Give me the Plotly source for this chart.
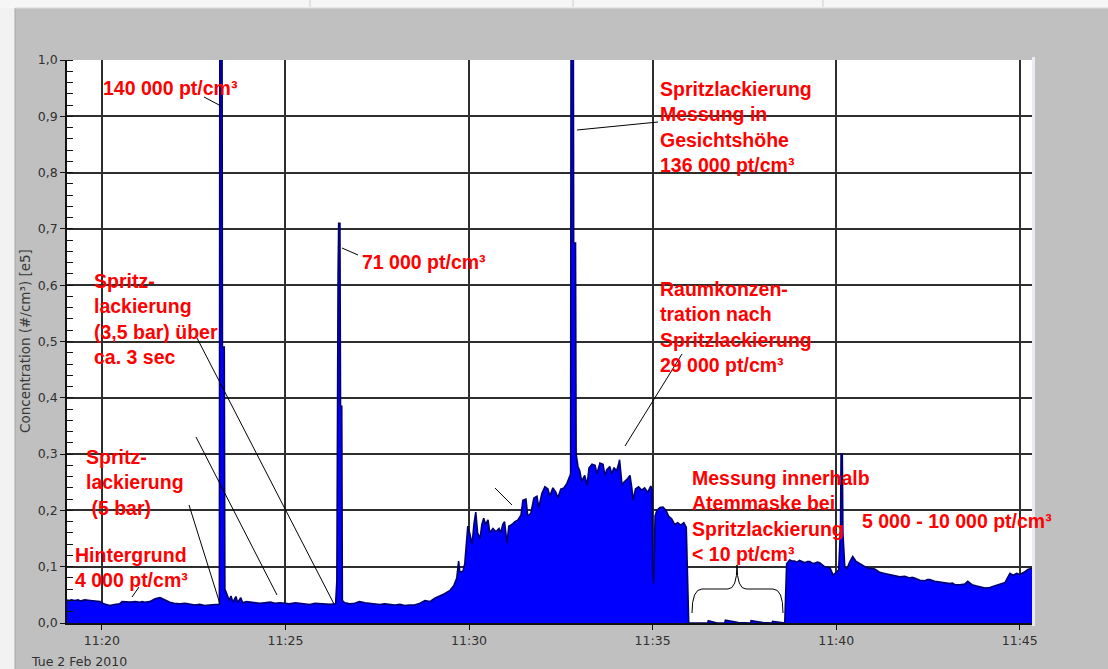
import plotly.graph_objects as go

DAY = "2010-02-02 "

# Particle concentration in units of 1e5 pt/cm³, read per measurement phase
bg_time = ["11:19:03", "11:19:07", "11:19:10", "11:19:16", "11:19:21", "11:19:25", "11:19:32", "11:19:37",
           "11:19:41", "11:19:49", "11:19:57", "11:20:03", "11:20:08", "11:20:13", "11:20:21", "11:20:29",
           "11:20:33", "11:20:40", "11:20:46", "11:20:55", "11:21:02", "11:21:06", "11:21:10", "11:21:18",
           "11:21:24", "11:21:27", "11:21:35", "11:21:43", "11:21:51", "11:21:58", "11:22:07", "11:22:16",
           "11:22:24", "11:22:32", "11:22:40", "11:22:48", "11:22:56", "11:23:05", "11:23:11"]
bg_conc = [0.041, 0.040, 0.041, 0.040, 0.041, 0.039, 0.041, 0.040,
           0.040, 0.039, 0.038, 0.034, 0.032, 0.031, 0.033, 0.034,
           0.038, 0.037, 0.037, 0.038, 0.037, 0.038, 0.037, 0.038,
           0.041, 0.043, 0.045, 0.041, 0.037, 0.035, 0.034, 0.035,
           0.034, 0.032, 0.033, 0.031, 0.032, 0.032, 0.033]

spike1_time = ["11:23:12", "11:23:13", "11:23:16", "11:23:17", "11:23:20", "11:23:21", "11:23:23", "11:23:28",
               "11:23:31", "11:23:34", "11:23:39", "11:23:42", "11:23:47", "11:23:50", "11:23:56", "11:24:02",
               "11:24:10", "11:24:18", "11:24:26", "11:24:35", "11:24:43", "11:24:51", "11:24:59", "11:25:07",
               "11:25:16", "11:25:24", "11:25:32", "11:25:40", "11:25:48", "11:25:56", "11:26:05", "11:26:13",
               "11:26:22", "11:26:24"]
spike1_conc = [0.034, 1.40, 1.40, 0.49, 0.49, 0.060, 0.055, 0.040,
               0.048, 0.037, 0.047, 0.036, 0.045, 0.036, 0.038, 0.037,
               0.036, 0.035, 0.036, 0.037, 0.035, 0.036, 0.035, 0.034,
               0.036, 0.035, 0.034, 0.033, 0.035, 0.034, 0.033, 0.033,
               0.034, 0.075]

spike2_time = ["11:26:26", "11:26:27", "11:26:29", "11:26:30", "11:26:32", "11:26:33", "11:26:37", "11:26:45",
               "11:26:53", "11:27:01", "11:27:10", "11:27:18", "11:27:26", "11:27:34", "11:27:42", "11:27:50",
               "11:27:59", "11:28:07", "11:28:15", "11:28:23", "11:28:31", "11:28:40", "11:28:48", "11:28:56",
               "11:29:04", "11:29:12", "11:29:20", "11:29:29", "11:29:35", "11:29:40"]
spike2_conc = [0.62, 0.71, 0.71, 0.385, 0.385, 0.040, 0.036, 0.034,
               0.035, 0.038, 0.036, 0.035, 0.035, 0.033, 0.034, 0.033,
               0.032, 0.033, 0.031, 0.032, 0.032, 0.035, 0.040, 0.038,
               0.044, 0.048, 0.052, 0.058, 0.066, 0.080]

rise_time = ["11:29:43", "11:29:45", "11:29:50", "11:29:53", "11:29:56", "11:29:58", "11:30:01", "11:30:05",
             "11:30:08", "11:30:11", "11:30:14", "11:30:18", "11:30:21", "11:30:24", "11:30:27", "11:30:31",
             "11:30:34", "11:30:39", "11:30:44", "11:30:49", "11:30:52", "11:30:55", "11:30:58", "11:31:02",
             "11:31:05", "11:31:10", "11:31:15", "11:31:20", "11:31:25", "11:31:28", "11:31:33", "11:31:36",
             "11:31:41", "11:31:46", "11:31:51", "11:31:54", "11:31:59", "11:32:04", "11:32:09", "11:32:12",
             "11:32:17", "11:32:22", "11:32:25", "11:32:30", "11:32:35", "11:32:40", "11:32:45", "11:32:46"]
rise_conc = [0.110, 0.090, 0.092, 0.105, 0.150, 0.172, 0.160, 0.140,
             0.175, 0.197, 0.160, 0.150, 0.175, 0.186, 0.175, 0.183,
             0.160, 0.168, 0.162, 0.168, 0.160, 0.175, 0.180, 0.142,
             0.172, 0.175, 0.180, 0.183, 0.192, 0.218, 0.220, 0.190,
             0.195, 0.222, 0.225, 0.205, 0.230, 0.242, 0.238, 0.225,
             0.240, 0.232, 0.222, 0.238, 0.240, 0.248, 0.262, 0.265]

spike3_time = ["11:32:47", "11:32:50", "11:32:51", "11:32:54", "11:32:55", "11:32:58", "11:33:01", "11:33:04",
               "11:33:09", "11:33:13", "11:33:16", "11:33:21", "11:33:26", "11:33:29", "11:33:34", "11:33:39",
               "11:33:42", "11:33:45", "11:33:50", "11:33:53", "11:33:57", "11:34:01", "11:34:05", "11:34:06",
               "11:34:10", "11:34:13", "11:34:18", "11:34:23", "11:34:26", "11:34:28", "11:34:32", "11:34:37",
               "11:34:42", "11:34:47", "11:34:52", "11:34:57", "11:34:59"]
spike3_conc = [1.36, 1.36, 0.675, 0.675, 0.300, 0.278, 0.270, 0.252,
               0.262, 0.245, 0.275, 0.282, 0.280, 0.265, 0.284, 0.282,
               0.262, 0.272, 0.278, 0.265, 0.276, 0.270, 0.284, 0.290,
               0.245, 0.250, 0.255, 0.262, 0.240, 0.218, 0.238, 0.242,
               0.236, 0.240, 0.232, 0.243, 0.238]

room_time = ["11:35:00", "11:35:02", "11:35:04", "11:35:07", "11:35:12", "11:35:17", "11:35:22", "11:35:26",
             "11:35:31", "11:35:36", "11:35:41", "11:35:46", "11:35:51", "11:35:55", "11:35:58", "11:35:59"]
room_conc = [0.090, 0.070, 0.190, 0.200, 0.205, 0.206, 0.200, 0.190,
             0.185, 0.175, 0.178, 0.174, 0.178, 0.170, 0.020, 0.0]

mask_time = ["11:36:10", "11:36:30", "11:36:31", "11:36:45", "11:36:58", "11:36:59", "11:37:20", "11:37:40",
             "11:37:41", "11:38:00", "11:38:15", "11:38:16", "11:38:36"]
mask_conc = [0.0, 0.0, 0.004, 0.0, 0.0, 0.005, 0.001, 0.0,
             0.004, 0.001, 0.0, 0.003, 0.0]

after_time = ["11:38:38", "11:38:39", "11:38:44", "11:38:48", "11:38:52", "11:38:56", "11:39:00", "11:39:05",
              "11:39:09", "11:39:13", "11:39:17", "11:39:21", "11:39:25", "11:39:29", "11:39:33", "11:39:41",
              "11:39:50", "11:39:55", "11:40:00", "11:40:04", "11:40:07", "11:40:08", "11:40:10", "11:40:11",
              "11:40:14", "11:40:18", "11:40:22", "11:40:27", "11:40:32", "11:40:39", "11:40:47", "11:40:55",
              "11:41:03", "11:41:07", "11:41:11", "11:41:19", "11:41:24", "11:41:28", "11:41:36", "11:41:44",
              "11:41:52", "11:42:00", "11:42:04", "11:42:08", "11:42:17", "11:42:25", "11:42:29", "11:42:33",
              "11:42:41", "11:42:49", "11:42:58", "11:43:06", "11:43:10", "11:43:14", "11:43:22", "11:43:30",
              "11:43:35", "11:43:42", "11:43:48", "11:43:55", "11:44:03", "11:44:11", "11:44:19", "11:44:27",
              "11:44:36", "11:44:40", "11:44:44", "11:44:49", "11:44:55", "11:45:00", "11:45:07", "11:45:13",
              "11:45:20"]
after_conc = [0.060, 0.105, 0.112, 0.110, 0.110, 0.108, 0.111, 0.109,
              0.107, 0.109, 0.109, 0.106, 0.106, 0.108, 0.107, 0.100,
              0.098, 0.085, 0.090, 0.094, 0.165, 0.300, 0.300, 0.160,
              0.100, 0.097, 0.108, 0.118, 0.110, 0.106, 0.100, 0.097,
              0.096, 0.093, 0.090, 0.088, 0.087, 0.085, 0.084, 0.082,
              0.083, 0.080, 0.081, 0.080, 0.076, 0.075, 0.077, 0.077,
              0.074, 0.073, 0.072, 0.070, 0.071, 0.068, 0.068, 0.069,
              0.074, 0.068, 0.066, 0.064, 0.062, 0.063, 0.066, 0.070,
              0.072, 0.080, 0.088, 0.085, 0.088, 0.086, 0.090, 0.095,
              0.097]

y_ticks = [0.0, 0.1, 0.2, 0.3, 0.4, 0.5, 0.6, 0.7, 0.8, 0.9, 1.0]
x_ticks = ["11:20", "11:25", "11:30", "11:35", "11:40", "11:45"]

times = (bg_time + spike1_time + spike2_time + rise_time + spike3_time
         + room_time + mask_time + after_time)
conc = (bg_conc + spike1_conc + spike2_conc + rise_conc + spike3_conc
        + room_conc + mask_conc + after_conc)

# plot area in pixels: x 67..1032, y 60..623
L, R, T, B = 67, 1032, 60, 623


def px(x):
    return (x - L) / (R - L)


def py(y):
    return (B - y) / (B - T)


fig = go.Figure()
fig.add_trace(go.Scatter(
    x=[DAY + t for t in times], y=conc, mode="lines",
    fill="tozeroy", fillcolor="#0000ff",
    line=dict(color="#000070", width=1.6),
    hoverinfo="skip", showlegend=False,
))

red = dict(family="Liberation Sans, Arial, sans-serif", size=19.5, color="#ff0000")
notes = [
    (102, 88, "140 000 pt/cm³"),
    (361, 262, "71 000 pt/cm³"),
    (93, 319, "Spritz-<br>lackierung<br>(3,5 bar) über<br>ca. 3 sec"),
    (85, 482, "Spritz-<br>lackierung<br>\u00a0(5 bar)"),
    (74, 567, "Hintergrund<br>4 000 pt/cm³"),
    (659, 127, "Spritzlackierung<br>Messung in<br>Gesichtshöhe<br>136 000 pt/cm³"),
    (659, 327, "Raumkonzen-<br>tration nach<br>Spritzlackierung<br>29 000 pt/cm³"),
    (691, 516, "Messung innerhalb<br>Atemmaske bei<br>Spritzlackierung<br>< 10 pt/cm³"),
    (861, 521, "5 000 - 10 000 pt/cm³"),
]
annotations = []
for x, y, txt in notes:
    annotations.append(dict(
        xref="paper", yref="paper", x=px(x), y=py(y), xanchor="left", yanchor="middle",
        text="<b>" + txt + "</b>", showarrow=False, align="left", font=red, borderpad=0,
    ))

axis_font = dict(family="DejaVu Sans, sans-serif", size=12.5, color="#303030")
annotations.append(dict(
    xref="paper", yref="paper", x=px(25), y=py(341), xanchor="center", yanchor="middle",
    text="Concentration (#/cm³) [e5]", textangle=-90, showarrow=False,
    font=dict(family="DejaVu Sans, sans-serif", size=13.5, color="#383838"),
))
annotations.append(dict(
    xref="paper", yref="paper", x=px(29), y=py(661), xanchor="left", yanchor="middle",
    text="Tue 2 Feb 2010", showarrow=False, font=axis_font,
))

shapes = []
# window frame: light strips on the left and the top, thin light border right of the plot
shapes.append(dict(type="rect", xref="paper", yref="paper", x0=px(0), x1=px(15), y0=py(669), y1=py(0),
                   fillcolor="#f2f2f2", line=dict(width=0), layer="below"))
shapes.append(dict(type="rect", xref="paper", yref="paper", x0=px(0), x1=px(1108), y0=py(8), y1=py(0),
                   fillcolor="#f6f6f6", line=dict(width=0), layer="below"))
shapes.append(dict(type="line", xref="paper", yref="paper", x0=px(15), x1=px(15), y0=py(669), y1=py(8),
                   line=dict(color="#a8a8a8", width=1)))
shapes.append(dict(type="line", xref="paper", yref="paper", x0=px(15), x1=px(1108), y0=py(8), y1=py(8),
                   line=dict(color="#dcdcdc", width=1)))
for sx in (310, 573, 823):
    shapes.append(dict(type="line", xref="paper", yref="paper", x0=px(sx), x1=px(sx), y0=py(0), y1=py(7),
                       line=dict(color="#d0d0d0", width=1)))
shapes.append(dict(type="rect", xref="paper", yref="paper", x0=px(1032), x1=px(1035), y0=py(626), y1=py(57),
                   fillcolor="#eceaf6", line=dict(width=0), layer="below"))

# leader lines from the labels to the curve
leaders = [
    ((204, 97), (221, 106)),
    ((342, 248), (358, 255)),
    ((197, 338), (334, 604)),
    ((196, 437), (277, 595)),
    ((189, 505), (220, 604)),
    ((132, 597), (139, 587)),
    ((577, 130), (658, 122)),
    ((625, 446), (682, 354)),
    ((495, 488), (512, 505)),
]
for (x0, y0), (x1, y1) in leaders:
    shapes.append(dict(type="line", xref="paper", yref="paper",
                       x0=px(x0), y0=py(y0), x1=px(x1), y1=py(y1),
                       line=dict(color="#000000", width=1)))

# curly brace over the mask measurement
brace_pts = [("M", 692, 613), ("Q", 692, 589, 702, 589), ("L", 728, 589), ("Q", 737, 589, 737, 565),
             ("Q", 737, 589, 746, 589), ("L", 773, 589), ("Q", 783, 589, 783, 613)]
path = ""
for seg in brace_pts:
    cmd, *c = seg
    pts = []
    for i in range(0, len(c), 2):
        pts.append(f"{px(c[i]):.5f},{py(c[i + 1]):.5f}")
    path += cmd + " " + " ".join(pts) + " "
shapes.append(dict(type="path", xref="paper", yref="paper", path=path.strip(),
                   line=dict(color="#000000", width=1)))

grid_col = "#2e2e2e"
fig.update_layout(
    width=1108, height=669,
    margin=dict(l=L, r=1108 - R, t=T, b=669 - B, pad=0),
    paper_bgcolor="#c0c0c0", plot_bgcolor="#ffffff",
    separators=",.",
    showlegend=False,
    annotations=annotations,
    shapes=shapes,
    xaxis=dict(
        type="date",
        range=[DAY + "11:19:03", DAY + "11:45:20"],
        tickvals=[DAY + t + ":00" for t in x_ticks], ticktext=x_ticks,
        showgrid=True, gridcolor=grid_col, gridwidth=1.5,
        showline=True, linecolor="#111111", linewidth=1.8,
        ticks="outside", ticklen=5, tickcolor="#111111", tickwidth=1.4,
        tickfont=axis_font, zeroline=False, fixedrange=True,
    ),
    yaxis=dict(
        range=[0, 1], tickvals=y_ticks, tickformat=".1f",
        showgrid=True, gridcolor=grid_col, gridwidth=1.5,
        showline=True, linecolor="#111111", linewidth=1.8,
        ticks="outside", ticklen=5, tickcolor="#111111", tickwidth=1.4,
        minor=dict(ticks="inside", ticklen=6, dtick=0.02, tickcolor="#111111", tickwidth=1.3, showgrid=False),
        tickfont=axis_font, zeroline=False, fixedrange=True,
    ),
)

fig.write_html("out.html")
